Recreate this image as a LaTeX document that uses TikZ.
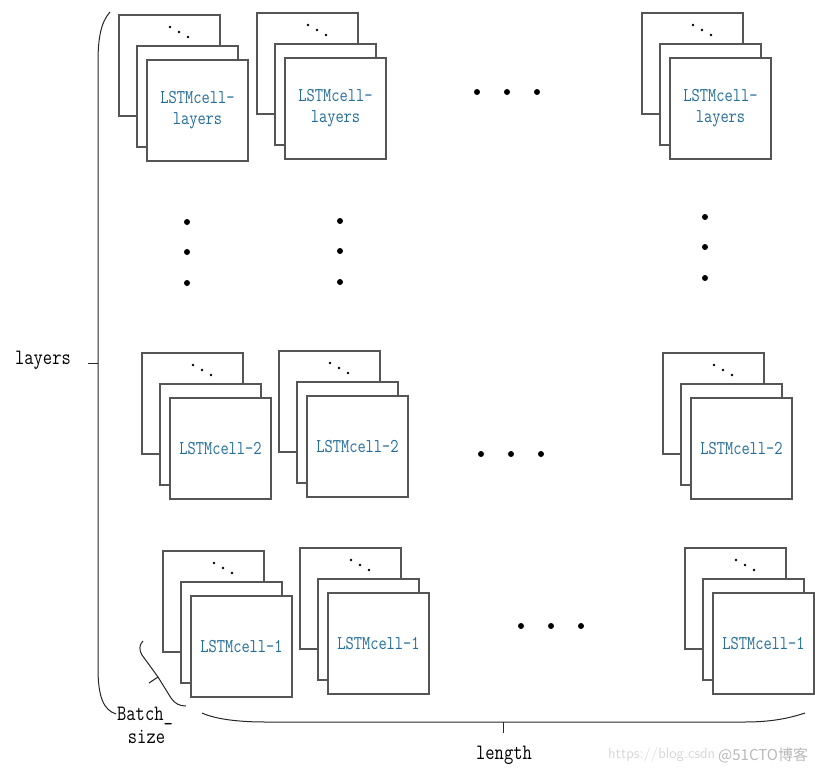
\documentclass[tikz,border=0pt]{standalone}
\usepackage{fontspec}
\usepackage{graphicx}
\newfontfamily\cjkfont{Noto Sans CJK SC}
\definecolor{celltext}{RGB}{35,110,155}
\definecolor{boxline}{RGB}{85,85,85}
\definecolor{wm}{RGB}{215,215,215}
\definecolor{wmdark}{RGB}{185,185,185}
\newcommand\tallt[1]{\scalebox{1}[1.22]{#1}}
\begin{document}
\begin{tikzpicture}[x=1pt,y=-1pt,
  cellbox/.style={draw=boxline,fill=white,line width=1.2pt,minimum width=101pt,minimum height=101pt,inner sep=0pt,
    font=\fontsize{16}{21}\selectfont\ttfamily,text=celltext,align=center},
  bigdot/.style={fill=black,circle,inner sep=0pt,minimum size=6pt},
  smalldot/.style={fill=black,circle,inner sep=0pt,minimum size=2.6pt},
  brace/.style={draw=black!85,line width=1pt},
  lbl/.style={font=\fontsize{18}{23}\selectfont\ttfamily,inner sep=0pt,align=center}]
\useasboundingbox (0,0) rectangle (815,774);
\fill[white] (0,0) rectangle (815,774);
% stack macro: name, x, y (top-left of back box), text
\newcommand\cellstack[4]{%
  \node[cellbox] (#1b) at (#2+50.5,#3+50.5) {};
  \node[smalldot] (#1d1) at (#2+51,#3+12) {};
  \node[smalldot] (#1d2) at (#2+60,#3+17) {};
  \node[smalldot] (#1d3) at (#2+69,#3+22) {};
  \node[cellbox] (#1m) at (#2+68.5,#3+81.5) {};
  \node[cellbox] (#1f) at (#2+78.5,#3+95.5) {#4};
}
\cellstack{a}{119}{15}{\tallt{LSTMcell-}\\\tallt{layers}}
\cellstack{b}{257}{13}{\tallt{LSTMcell-}\\\tallt{layers}}
\cellstack{c}{642}{13}{\tallt{LSTMcell-}\\\tallt{layers}}
\cellstack{d}{142}{353}{\tallt{LSTMcell-2}}
\cellstack{e}{279}{351}{\tallt{LSTMcell-2}}
\cellstack{f}{663}{353}{\tallt{LSTMcell-2}}
\cellstack{g}{163}{551}{\tallt{LSTMcell-1}}
\cellstack{h}{300}{548}{\tallt{LSTMcell-1}}
\cellstack{i}{685}{548}{\tallt{LSTMcell-1}}
% big dots
\foreach \n/\x/\y in {r1a/477/92,r1b/507/92,r1c/537/92,
  v1a/187/222,v1b/187/252,v1c/187/283,
  v2a/340/221,v2b/340/251,v2c/340/282,
  v3a/705/217,v3b/705/247,v3c/705/278,
  r2a/481/454,r2b/511/454,r2c/541/454,
  r3a/521/626,r3b/551/626,r3c/581/626}
  \node[bigdot] (\n) at (\x,\y) {};
% left brace
\coordinate (lbTop) at (110,12);
\coordinate (lbBot) at (116,714);
\coordinate (lbMid) at (98,363);
\coordinate (lbTick) at (88,363);
\draw[brace] (lbTop) .. controls (101,22) and (98,38) .. (98,62) -- (lbMid) -- (98,668) .. controls (98,698) and (104,710) .. (lbBot);
\draw[brace] (lbMid) -- (lbTick);
% bottom brace
\coordinate (bbL) at (202,713);
\coordinate (bbR) at (805,713);
\coordinate (bbMid) at (503,722);
\coordinate (bbTick) at (503,733);
\draw[brace] (bbL) .. controls (215,719) and (238,722) .. (265,722) -- (bbMid) -- (745,722) .. controls (772,722) and (790,718) .. (bbR);
\draw[brace] (bbMid) -- (bbTick);
% small brace (batch)
\coordinate (sbT) at (143,641);
\coordinate (sbB) at (186,706);
\coordinate (sbMid) at (158,677);
\coordinate (sbTick) at (149,683);
\draw[brace] (sbT) .. controls (139,645) and (139,650) .. (142,655) -- (sbMid) -- (171,698) .. controls (175,704) and (180,706) .. (sbB);
\draw[brace] (sbMid) -- (sbTick);
% labels
\node[lbl,anchor=east] (layers) at (71,360) {\tallt{layers}};
\node[lbl] (batch) at (145,725) {\tallt{Batch\_}\\\,\tallt{size}};
\node[lbl] (length) at (504,755) {\tallt{length}};
% watermark
\node[font=\fontsize{15}{16}\selectfont\sffamily,text=wm,anchor=west,inner sep=0pt] (wm1) at (608,755) {https://blog.csdn};
\node[font=\fontsize{15}{16}\selectfont\cjkfont,text=wmdark,anchor=west,inner sep=0pt] (wm2) at (718,755) {@51CTO博客};
\end{tikzpicture}
\end{document}
